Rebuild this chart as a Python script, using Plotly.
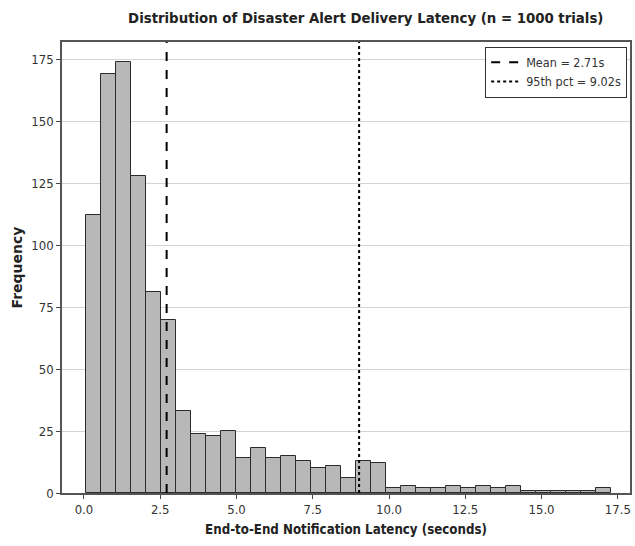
import plotly.graph_objects as go

# ---- data ----
bin_start = 0.065
bin_width = 0.492
counts = [112, 169, 174, 128, 81, 70, 33, 24, 23, 25,
          14, 18, 14, 15, 13, 10, 11, 6, 13, 12,
          2, 3, 2, 2, 3, 2, 3, 2, 3, 1,
          1, 1, 1, 1, 2]
mean_val = 2.71
p95_val = 9.02
x_ticks = [0.0, 2.5, 5.0, 7.5, 10.0, 12.5, 15.0, 17.5]
y_ticks = [0, 25, 50, 75, 100, 125, 150, 175]

centers = [bin_start + (i + 0.5) * bin_width for i in range(len(counts))]
y_max = 182

FONT = "DejaVu Sans Condensed, Liberation Sans Narrow, Liberation Sans, sans-serif"

fig = go.Figure()
fig.add_trace(go.Bar(
    x=centers, y=counts, width=[bin_width] * len(counts),
    marker=dict(color="#b8b8b8", line=dict(color="#2b2b2b", width=1)),
    showlegend=False, hoverinfo="x+y",
))
fig.add_trace(go.Scatter(
    x=[mean_val, mean_val], y=[0, y_max], mode="lines",
    line=dict(color="black", width=2, dash="dash"),
    name=f"Mean = {mean_val:.2f}s",
))
fig.add_trace(go.Scatter(
    x=[p95_val, p95_val], y=[0, y_max], mode="lines",
    line=dict(color="black", width=2, dash="dot"),
    name=f"95th pct = {p95_val:.2f}s",
))

fig.update_layout(
    width=635, height=546,
    margin=dict(l=62, r=3, t=42, b=53),
    paper_bgcolor="white", plot_bgcolor="white",
    font=dict(family=FONT, size=12, color="#333333"),
    title=dict(text="<b>Distribution of Disaster Alert Delivery Latency (n = 1000 trials)</b>",
               x=0.576, xanchor="center", y=0.967, yanchor="middle",
               font=dict(family=FONT, size=14.8, color="#222222")),
    bargap=0,
    legend=dict(x=0.995, y=0.99, xanchor="right", yanchor="top",
                bgcolor="white", bordercolor="#333333", borderwidth=1,
                font=dict(family=FONT, size=12.5, color="#333333"),
                tracegroupgap=2),
)
fig.update_xaxes(
    range=[-0.72, 17.9], tickvals=x_ticks, ticktext=[f"{v:.1f}" for v in x_ticks],
    showgrid=False, zeroline=False,
    showline=True, mirror=True, linecolor="#555555", linewidth=1.5,
    ticks="outside", ticklen=4, tickcolor="#444444",
    tickfont=dict(family=FONT, size=13, color="#333333"),
    title=dict(text="<b>End-to-End Notification Latency (seconds)</b>", standoff=8,
               font=dict(family=FONT, size=13.2, color="#222222")),
)
fig.update_yaxes(
    range=[0, y_max], tickvals=y_ticks,
    showgrid=True, gridcolor="#d4d4d4", gridwidth=1, zeroline=False,
    showline=True, mirror=True, linecolor="#555555", linewidth=1.5,
    ticks="outside", ticklen=4, tickcolor="#444444",
    tickfont=dict(family=FONT, size=13, color="#333333"),
    title=dict(text="<b>Frequency</b>", standoff=5,
               font=dict(family="DejaVu Sans", size=14, color="#222222")),
)

fig.write_html("out.html")
